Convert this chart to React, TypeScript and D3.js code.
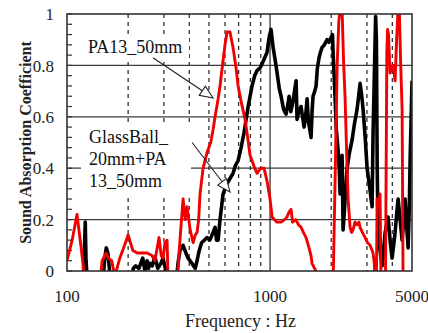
import { useEffect, useRef } from "react";
import * as d3 from "d3";

// PA13_50mm (red)
const PA_FREQ = [100, 106, 112, 117, 123, 145, 149, 156, 160, 166, 172, 182, 192, 200, 211, 222, 236, 248, 262, 271, 284, 291, 297, 304, 311, 315, 348, 360, 373, 382, 390, 404, 418, 428, 437, 445, 452, 468, 489, 510, 524, 536, 555, 567, 587, 600, 614, 635, 657, 680, 696, 720, 753, 779, 797, 815, 840, 863, 900, 934, 966, 1000, 1023, 1080, 1133, 1180, 1212, 1241, 1269, 1290, 1340, 1380, 1421, 1460, 1504, 1556, 1590, 1610, 1680, 1743, 2044, 2090, 2140, 2180, 2212, 2263, 2300, 2342, 2395, 2423, 2478, 2520, 2564, 2620, 2683, 2740, 2775, 2850, 2938, 3020, 3108, 3180, 3216, 3260, 3290, 3340, 3366, 3420, 3480, 3520, 3700, 3760, 3790, 3830, 3900, 3960, 4040, 4128, 4200, 4272, 4330, 4400, 4469, 4520, 4650];
const PA_ALPHA = [0.04, 0.12, 0.22, 0.1, -0.05, -0.05, 0.04, 0.07, 0.05, 0.04, -0.02, 0.05, 0.1, 0.14, 0.08, 0.07, 0.07, 0.07, 0.06, 0.04, 0.13, 0.06, 0.05, 0.11, 0.12, -0.05, -0.05, 0.12, 0.28, 0.2, 0.25, 0.16, 0.11, 0.14, 0.15, 0.2, 0.3, 0.4, 0.46, 0.5, 0.55, 0.6, 0.67, 0.72, 0.82, 0.88, 0.93, 0.93, 0.87, 0.79, 0.72, 0.66, 0.59, 0.51, 0.45, 0.43, 0.4, 0.38, 0.4, 0.4, 0.35, 0.28, 0.21, 0.19, 0.19, 0.2, 0.21, 0.23, 0.24, 0.19, 0.2, 0.18, 0.17, 0.15, 0.13, 0.09, 0.06, 0.03, 0.0, -0.05, -0.05, 0.35, 0.8, 0.97, 1.02, 1.02, 0.82, 0.67, 0.4, 0.28, 0.17, 0.15, 0.16, 0.19, 0.18, 0.19, 0.17, 0.15, 0.13, 0.11, 0.1, 0.08, 0.07, 0.03, -0.05, -0.05, 0.28, 0.25, 0.3, -0.05, -0.05, 0.85, 0.94, 0.92, 0.77, 0.79, 0.8, 0.74, 0.9, 1.02, 1.02, 0.8, 0.63, -0.05, -0.05];

// GlassBall_20mm+PA13_50mm (black)
const GB_FREQ = [100, 120, 122, 123, 124, 126, 150, 153, 156, 159, 163, 165, 207, 212, 218, 226, 236, 242, 248, 252, 256, 263, 271, 280, 290, 297, 305, 311, 345, 352, 360, 373, 385, 395, 412, 428, 437, 448, 460, 475, 489, 505, 524, 536, 545, 555, 567, 587, 600, 614, 635, 657, 675, 696, 720, 745, 780, 815, 840, 863, 893, 930, 966, 990, 1011, 1035, 1060, 1083, 1110, 1133, 1165, 1199, 1225, 1241, 1265, 1290, 1320, 1343, 1358, 1385, 1421, 1445, 1471, 1495, 1522, 1545, 1570, 1592, 1610, 1628, 1660, 1685, 1710, 1743, 1770, 1804, 1850, 1909, 1950, 2000, 2030, 2044, 2070, 2091, 2120, 2163, 2190, 2212, 2240, 2263, 2289, 2330, 2395, 2460, 2535, 2600, 2683, 2730, 2775, 2820, 2871, 2940, 3005, 3090, 3180, 3216, 3270, 3310, 3340, 3370, 3404, 3480, 3562, 3620, 3686, 3750, 3813, 3860, 3900, 3950, 3990, 4060, 4128, 4200, 4272, 4370, 4469, 4560, 4624, 4700, 4784, 4850, 4894, 4960, 5000];
const GB_ALPHA = [-0.05, -0.05, 0.1, 0.19, 0.05, -0.05, -0.05, 0.04, 0.09, 0.07, -0.02, -0.05, -0.05, 0.01, 0.02, 0.01, 0.05, 0.0, 0.04, 0.01, 0.03, 0.02, 0.055, 0.01, 0.03, 0.05, 0.01, -0.05, -0.05, 0.03, 0.08, 0.1, 0.07, 0.05, 0.03, 0.01, 0.04, 0.08, 0.11, 0.12, 0.13, 0.12, 0.15, 0.17, 0.12, 0.12, 0.2, 0.3, 0.32, 0.34, 0.36, 0.38, 0.41, 0.43, 0.48, 0.54, 0.64, 0.72, 0.76, 0.78, 0.79, 0.82, 0.85, 0.91, 0.94, 0.87, 0.82, 0.77, 0.71, 0.68, 0.63, 0.61, 0.65, 0.68, 0.62, 0.65, 0.7, 0.74, 0.59, 0.62, 0.64, 0.6, 0.56, 0.6, 0.67, 0.58, 0.55, 0.52, 0.62, 0.68, 0.7, 0.72, 0.79, 0.83, 0.85, 0.87, 0.88, 0.9, 0.89, 0.91, 0.92, 0.85, 0.75, 0.67, 0.55, 0.47, 0.4, 0.3, 0.42, 0.45, 0.16, 0.25, 0.4, 0.46, 0.51, 0.57, 0.63, 0.68, 0.73, 0.69, 0.63, 0.52, 0.4, 0.33, 0.25, 0.54, 0.8, 0.99, 0.9, 0.4, 0.15, 0.08, 0.02, 0.08, 0.15, 0.18, 0.21, 0.16, 0.12, 0.08, 0.05, 0.1, 0.15, 0.22, 0.28, 0.2, 0.12, 0.2, 0.28, 0.18, 0.09, 0.25, 0.43, 0.62, 0.74];

const Y_TICKS = [0, 0.2, 0.4, 0.6, 0.8, 1];
const X_LABELS = [100, 1000, 5000];
const X_DASHED = [200, 300, 400, 500, 600, 700, 800, 900, 2000, 3000, 4000];

const FONT = "Liberation Serif, DejaVu Serif, serif";

export default function App() {
  const svgRef = useRef<SVGSVGElement | null>(null);

  useEffect(() => {
    const svg = d3.select(svgRef.current);
    svg.selectAll("*").remove();

    const W = 428;
    const H = 333;
    const margin = { top: 14, right: 16, bottom: 62, left: 67 };
    const w = W - margin.left - margin.right;
    const h = H - margin.top - margin.bottom;

    svg.attr("viewBox", `0 0 ${W} ${H}`).style("font-family", FONT);
    svg.append("rect").attr("width", W).attr("height", H).attr("fill", "#fff");

    const g = svg.append("g").attr("transform", `translate(${margin.left},${margin.top})`);

    const x = d3.scaleLog().domain([100, 5000]).range([0, w]);
    const y = d3.scaleLinear().domain([0, 1]).range([h, 0]);

    g.append("clipPath").attr("id", "plot-clip").append("rect").attr("width", w).attr("height", h);

    // grid
    g.append("g")
      .selectAll("line")
      .data(Y_TICKS.filter((t) => t > 0 && t < 1))
      .join("line")
      .attr("x1", 0)
      .attr("x2", w)
      .attr("y1", (d) => y(d))
      .attr("y2", (d) => y(d))
      .attr("stroke", "#3a3a3a")
      .attr("stroke-width", 1.3);

    g.append("g")
      .selectAll("line")
      .data(X_DASHED)
      .join("line")
      .attr("x1", (d) => x(d))
      .attr("x2", (d) => x(d))
      .attr("y1", 0)
      .attr("y2", h)
      .attr("stroke", "#333")
      .attr("stroke-width", 1.3)
      .attr("stroke-dasharray", "4,4");

    g.append("line")
      .attr("x1", x(1000))
      .attr("x2", x(1000))
      .attr("y1", 0)
      .attr("y2", h)
      .attr("stroke", "#333")
      .attr("stroke-width", 1.3);

    // minor ticks on the left axis
    g.append("g")
      .selectAll("line")
      .data(d3.range(0, 1.0001, 0.04))
      .join("line")
      .attr("x1", 0)
      .attr("x2", 5)
      .attr("y1", (d) => y(d))
      .attr("y2", (d) => y(d))
      .attr("stroke", "#333")
      .attr("stroke-width", 1.2);

    // label boxes (white background hides grid)
    const pa = g.append("g");
    pa.append("rect")
      .attr("x", 14)
      .attr("y", 22)
      .attr("width", 108)
      .attr("height", 22)
      .attr("fill", "#fff");
    pa.append("text")
      .attr("x", 21)
      .attr("y", 39)
      .attr("font-size", 18)
      .attr("fill", "#111")
      .text("PA13_50mm");

    const gb = g.append("g");
    gb.append("rect")
      .attr("x", 14)
      .attr("y", 112)
      .attr("width", 110)
      .attr("height", 70)
      .attr("fill", "#fff");
    ["GlassBall_", "20mm+PA", "13_50mm"].forEach((s, i) => {
      gb.append("text")
        .attr("x", 22)
        .attr("y", 129 + i * 22)
        .attr("font-size", 18)
        .attr("fill", "#111")
        .text(s);
    });

    // curves
    const line = d3
      .line<[number, number]>()
      .x((d) => x(d[0]))
      .y((d) => y(d[1]));

    const plot = g.append("g").attr("clip-path", "url(#plot-clip)");
    plot
      .append("path")
      .attr("d", line(GB_FREQ.map((f, i) => [f, GB_ALPHA[i]] as [number, number])))
      .attr("fill", "none")
      .attr("stroke", "#000")
      .attr("stroke-width", 3.6)
      .attr("stroke-linejoin", "round");
    plot
      .append("path")
      .attr("d", line(PA_FREQ.map((f, i) => [f, PA_ALPHA[i]] as [number, number])))
      .attr("fill", "none")
      .attr("stroke", "#f00000")
      .attr("stroke-width", 2.9)
      .attr("stroke-linejoin", "round");

    // arrows with open heads
    const arrow = (f0: number, a0: number, f1: number, a1: number) => {
      const x0 = x(f0), y0 = y(a0), x1 = x(f1), y1 = y(a1);
      const ang = Math.atan2(y1 - y0, x1 - x0);
      const len = 13, half = 5.5;
      const bx = x1 - len * Math.cos(ang), by = y1 - len * Math.sin(ang);
      const px = -Math.sin(ang) * half, py = Math.cos(ang) * half;
      g.append("line")
        .attr("x1", x0).attr("y1", y0).attr("x2", bx).attr("y2", by)
        .attr("stroke", "#222").attr("stroke-width", 1.1);
      g.append("polygon")
        .attr("points", `${x1},${y1} ${bx + px},${by + py} ${bx - px},${by - py}`)
        .attr("fill", "#fff")
        .attr("stroke", "#222")
        .attr("stroke-width", 1.1);
    };
    arrow(265, 0.83, 524, 0.673);
    arrow(413, 0.5, 635, 0.307);

    // frame
    g.append("rect")
      .attr("width", w)
      .attr("height", h)
      .attr("fill", "none")
      .attr("stroke", "#333")
      .attr("stroke-width", 1.6);

    // tick labels
    g.append("g")
      .selectAll("text")
      .data(Y_TICKS)
      .join("text")
      .attr("x", -13)
      .attr("y", (d) => y(d))
      .attr("dy", "0.36em")
      .attr("text-anchor", "end")
      .attr("font-size", 17)
      .attr("fill", "#222")
      .text((d) => (d === 0 || d === 1 ? String(d) : d.toFixed(1)));

    g.append("g")
      .selectAll("text")
      .data(X_LABELS)
      .join("text")
      .attr("x", (d) => x(d))
      .attr("y", h + 31)
      .attr("text-anchor", "middle")
      .attr("font-size", 17)
      .attr("fill", "#222")
      .text((d) => String(d));

    svg.append("text")
      .attr("x", margin.left + w / 2 + 1)
      .attr("y", 327)
      .attr("text-anchor", "middle")
      .attr("font-size", 18)
      .attr("fill", "#222")
      .text("Frequency : Hz");

    svg.append("text")
      .attr("transform", `translate(31,${margin.top + h / 2}) rotate(-90)`)
      .attr("text-anchor", "middle")
      .attr("font-size", 16)
      .attr("font-weight", "bold")
      .attr("fill", "#222")
      .text("Sound Absorption Coefficient");
  }, []);

  return (
    <svg
      ref={svgRef}
      width={428}
      height={333}
      style={{ position: "absolute", left: 0, top: 0 }}
    />
  );
}
